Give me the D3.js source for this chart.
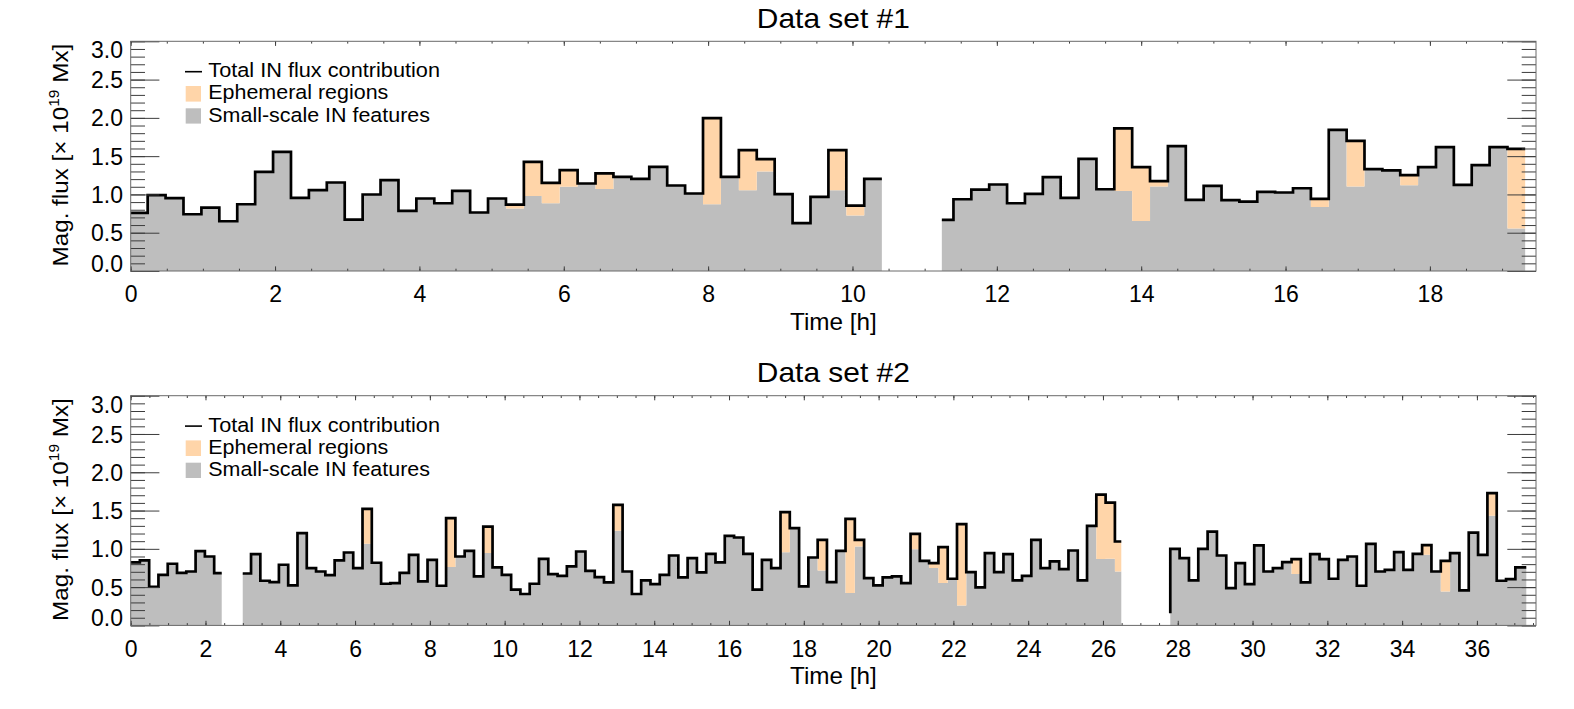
<!DOCTYPE html>
<html><head><meta charset="utf-8">
<script src="https://cdn.jsdelivr.net/npm/d3@7"></script>
<style>
body{margin:0;background:#fff}
svg{display:block}
text{font-family:"Liberation Sans",Arial,Helvetica,sans-serif;fill:#000}
</style>
</head><body>
<svg id="chart" width="1574" height="709"></svg>
<script>
// ---------------- DATA ----------------
const titles = ["Data set #1", "Data set #2"];
const xMaxes = [19.47, 37.58];
const xTickValues1 = [0, 2, 4, 6, 8, 10, 12, 14, 16, 18];
const xTickValues2 = [0, 2, 4, 6, 8, 10, 12, 14, 16, 18, 20, 22, 24, 26, 28, 30, 32, 34, 36];
const yTickValues = [0, 0.5, 1.0, 1.5, 2.0, 2.5, 3.0];
const legendLabels = ["Total IN flux contribution", "Ephemeral regions", "Small-scale IN features"];

// Data set #1 : two observing segments (time in hours)
const ds1SegStart = [0, 11.238];
const ds1FirstEdge = [0.235, 11.399];
const ds1BinWidth = [0.2482, 0.2476];
const ds1SegEnd = [10.407, 19.32];
const ds1SegLead = [null, null];
const ds1TotalA = [0.758,0.99,0.951,0.741,0.829,0.65,0.872,1.295,1.556,0.955,1.055,1.156,0.672,0.999,1.186,0.785,0.947,0.885,1.046,0.764,
  0.947,0.868,1.426,1.151,1.317,1.143,1.274,1.229,1.203,1.36,1.117,1.012,1.997,1.229,1.578,1.461,1.003,0.624,0.968,1.578,0.855,1.203];
const ds1SmallA = [0.758,0.99,0.951,0.741,0.829,0.65,0.872,1.295,1.556,0.955,1.055,1.156,0.672,0.999,1.186,0.785,0.947,0.885,1.046,0.764,
  0.947,0.816,0.981,0.885,1.099,1.143,1.072,1.229,1.203,1.36,1.117,1.012,0.872,1.229,1.055,1.299,1.003,0.624,0.968,1.055,0.724,1.203];
const ds1TotalB = [0.667,0.937,1.064,1.13,0.885,1.007,1.225,0.955,1.465,1.068,1.862,1.356,1.173,1.631,0.928,1.112,0.925,0.907,1.033,1.025,
  1.081,0.942,1.844,1.70,1.33,1.313,1.251,1.356,1.618,1.125,1.382,1.618,1.595];
const ds1SmallB = [0.667,0.937,1.064,1.13,0.885,1.007,1.225,0.955,1.465,1.068,1.046,0.654,1.104,1.631,0.928,1.112,0.925,0.907,1.033,1.025,
  1.081,0.837,1.844,1.104,1.33,1.313,1.121,1.356,1.618,1.125,1.382,1.618,0.554];

// Data set #2 : three observing segments
const ds2SegStart = [0, 2.996, 27.80];
const ds2FirstEdge = [0.245, 3.218, 28.05];
const ds2BinWidth = [0.2484, 0.2484, 0.2494];
const ds2SegEnd = [2.434, 26.49, 37.32];
const ds2SegLead = [null, null, 0.16];
const ds2TotalA = [0.822,0.848,0.505,0.661,0.805,0.687,0.704,0.970,0.900,0.683];
const ds2SmallA = [0.822,0.848,0.505,0.661,0.805,0.687,0.704,0.970,0.900,0.683];
const ds2TotalB = [0.678,0.931,0.583,0.566,0.792,0.522,1.205,0.748,0.704,0.657,0.848,0.952,0.748,1.522,0.818,0.544,0.553,0.687,0.922,0.574,
  0.857,0.518,1.401,0.900,0.974,0.639,1.291,0.757,0.661,0.466,0.410,0.544,0.870,0.670,0.648,0.770,0.965,0.713,0.631,0.561,
  1.574,0.704,0.410,0.587,0.540,0.661,0.913,0.626,0.879,0.692,0.935,0.822,1.170,1.148,0.935,0.466,0.857,0.749,1.479,1.270,
  0.509,0.887,1.118,0.566,0.974,1.392,1.118,0.618,0.522,0.626,0.639,0.553,1.196,0.844,0.814,1.022,0.609,1.323,0.696,0.496,
  0.944,0.696,0.931,0.587,0.648,1.118,0.749,0.835,0.736,0.978,0.587,1.300,1.709,1.604,1.096];
const ds2SmallB = [0.678,0.931,0.583,0.566,0.792,0.522,1.205,0.748,0.704,0.657,0.848,0.952,0.748,1.066,0.818,0.544,0.553,0.687,0.922,0.574,
  0.857,0.518,0.762,0.900,0.974,0.639,0.944,0.757,0.661,0.466,0.410,0.544,0.870,0.670,0.648,0.770,0.965,0.713,0.631,0.561,
  1.235,0.704,0.410,0.587,0.540,0.661,0.913,0.626,0.879,0.692,0.935,0.822,1.170,1.148,0.935,0.466,0.857,0.749,0.957,1.270,
  0.509,0.887,0.717,0.566,0.974,0.423,1.03,0.618,0.522,0.626,0.639,0.553,0.996,0.844,0.749,0.553,0.609,0.261,0.696,0.496,
  0.944,0.696,0.931,0.587,0.648,1.118,0.749,0.835,0.736,0.978,0.587,1.300,0.866,0.87,0.704];
const ds2TotalC = [1.0,0.879,0.587,1.0,1.226,0.913,0.488,0.814,0.540,1.044,0.704,0.748,0.827,0.866,0.561,0.931,0.866,0.609,0.857,0.900,
  0.518,1.066,0.704,0.726,0.957,0.726,0.935,1.048,0.704,0.844,0.944,0.457,1.213,0.922,1.727,0.583,0.605,0.757];
const ds2SmallC = [1.0,0.879,0.587,1.0,1.226,0.913,0.488,0.814,0.540,1.044,0.704,0.748,0.827,0.670,0.561,0.931,0.866,0.609,0.857,0.900,
  0.518,1.066,0.704,0.726,0.957,0.726,0.935,0.922,0.704,0.443,0.944,0.457,1.213,0.922,1.431,0.583,0.605,0.757];

// ---------------- LAYOUT / STYLE ----------------
const LEFT = 130.7, RIGHT = 1536, PH = 229.7;
const TOPS = [41.3, 395.7];
const GRAY = "#bebebe", PEACH = "#ffd5a9";
const TICK = "#3c3c3c", FRAME = "#6a6a6a";
const FONT = '"Liberation Sans",Arial,Helvetica,sans-serif';
const TICKFS = 23;

const panels = [
  {title: titles[0], xMax: xMaxes[0], xTicks: xTickValues1,
   segs: ds1SegStart.map((s, i) => ({start: s, fe: ds1FirstEdge[i], dt: ds1BinWidth[i], end: ds1SegEnd[i], lead: ds1SegLead[i],
     total: [ds1TotalA, ds1TotalB][i], small: [ds1SmallA, ds1SmallB][i]}))},
  {title: titles[1], xMax: xMaxes[1], xTicks: xTickValues2,
   segs: ds2SegStart.map((s, i) => ({start: s, fe: ds2FirstEdge[i], dt: ds2BinWidth[i], end: ds2SegEnd[i], lead: ds2SegLead[i],
     total: [ds2TotalA, ds2TotalB, ds2TotalC][i], small: [ds2SmallA, ds2SmallB, ds2SmallC][i]}))}
];

const svg = d3.select("#chart");
svg.append("rect").attr("width", 1574).attr("height", 709).attr("fill", "#fff");

function stepPoints(seg) {
  const n = seg.total.length;
  const pts = seg.total.map((v, i) => ({t: i === 0 ? seg.start : seg.fe + (i - 1) * seg.dt, hi: v, lo: seg.small[i]}));
  pts.push({t: seg.end, hi: seg.total[n - 1], lo: seg.small[n - 1]});
  return pts;
}

panels.forEach((p, pi) => {
  const W = RIGHT - LEFT;
  const x = d3.scaleLinear().domain([0, p.xMax]).range([0, W]);
  const y = d3.scaleLinear().domain([0, 3]).range([PH, 0]);
  const g = svg.append("g").attr("transform", `translate(${LEFT},${TOPS[pi]})`);

  const grayArea = d3.area().x(d => x(d.t)).y0(y(0)).y1(d => y(d.lo)).curve(d3.curveStepAfter);
  const peachArea = d3.area().x(d => x(d.t)).y0(d => y(d.lo)).y1(d => y(d.hi)).curve(d3.curveStepAfter);
  const line = d3.line().x(d => x(d.t)).y(d => y(d.hi)).curve(d3.curveStepAfter);

  p.segs.forEach(seg => {
    const pts = stepPoints(seg);
    g.append("path").attr("d", grayArea(pts)).attr("fill", GRAY);
    g.append("path").attr("d", peachArea(pts)).attr("fill", PEACH);
    const lpts = seg.lead !== null ? [{t: seg.start, hi: seg.lead, lo: seg.lead}].concat(pts) : pts;
    g.append("path").attr("d", line(lpts)).attr("fill", "none").attr("stroke", "#000")
      .attr("stroke-width", 2.7).attr("stroke-linejoin", "miter");
  });

  // axes
  function putAxis(axis, tr) {
    const a = g.append("g").attr("transform", tr).call(axis);
    a.attr("font-size", null).attr("font-family", null);
    a.select(".domain").remove();
    a.selectAll("line").attr("stroke", TICK).attr("stroke-width", 1);
    a.selectAll("text").attr("font-size", TICKFS).attr("font-family", FONT).attr("fill", "#000");
    return a;
  }
  const xMinor = d3.range(0, p.xMax, 0.5);
  const yMinor = d3.range(0, 3.001, 0.1);
  const xMajLen = 4.6, xMinLen = 2.3, yMajLen = 28.7, yMinLen = 14.3;

  putAxis(d3.axisBottom(x).tickValues(xMinor).tickSizeInner(-xMinLen).tickSizeOuter(0).tickFormat(""), `translate(0,${PH})`);
  putAxis(d3.axisBottom(x).tickValues(p.xTicks).tickSizeInner(-xMajLen).tickSizeOuter(0).tickPadding(31.3 - 0.71 * TICKFS).tickFormat(d3.format("d")), `translate(0,${PH})`);
  putAxis(d3.axisTop(x).tickValues(xMinor).tickSizeInner(-xMinLen).tickSizeOuter(0).tickFormat(""), "translate(0,0)");
  putAxis(d3.axisTop(x).tickValues(p.xTicks).tickSizeInner(-xMajLen).tickSizeOuter(0).tickFormat(""), "translate(0,0)");

  putAxis(d3.axisLeft(y).tickValues(yMinor).tickSizeInner(-yMinLen).tickSizeOuter(0).tickFormat(""), "translate(0,0)");
  const yl = putAxis(d3.axisLeft(y).tickValues(yTickValues).tickSizeInner(-yMajLen).tickSizeOuter(0).tickPadding(7.7).tickFormat(d3.format(".1f")), "translate(0,0)");
  yl.selectAll("text").attr("dy", d => d === 0 ? "0em" : (d === 3 ? "0.72em" : "0.35em"));
  putAxis(d3.axisRight(y).tickValues(yMinor).tickSizeInner(-yMinLen).tickSizeOuter(0).tickFormat(""), `translate(${W},0)`);
  putAxis(d3.axisRight(y).tickValues(yTickValues).tickSizeInner(-yMajLen).tickSizeOuter(0).tickFormat(""), `translate(${W},0)`);

  g.append("rect").attr("x", 0).attr("y", 0).attr("width", W).attr("height", PH)
    .attr("fill", "none").attr("stroke", FRAME).attr("stroke-width", 1);

  // title
  g.append("text").attr("x", W / 2).attr("y", -13.3).attr("text-anchor", "middle")
    .attr("font-size", 28).attr("textLength", 153).attr("lengthAdjust", "spacingAndGlyphs").text(p.title);
  // x label
  g.append("text").attr("x", W / 2).attr("y", PH + 58.6).attr("text-anchor", "middle")
    .attr("font-size", 24).attr("textLength", 86.7).attr("lengthAdjust", "spacingAndGlyphs").text("Time [h]");
  // y label
  const yt = svg.append("text").attr("text-anchor", "middle").attr("font-size", 22);
  yt.append("tspan").text("Mag. flux [\u00d7 10");
  yt.append("tspan").attr("font-size", 14).attr("dy", -9).text("19");
  yt.append("tspan").attr("dy", 9).text(" Mx]");
  const bw = yt.node().getBBox().width;
  yt.attr("transform", `translate(68.3,${TOPS[pi] + PH / 2 - 1}) rotate(-90) scale(${223 / bw},1)`);

  // legend
  const lg = g.append("g");
  lg.append("line").attr("x1", 54.3).attr("x2", 71.3).attr("y1", 30.4).attr("y2", 30.4)
    .attr("stroke", "#000").attr("stroke-width", 1.6);
  lg.append("rect").attr("x", 55).attr("y", 44.7).attr("width", 15.3).attr("height", 15.6).attr("fill", PEACH);
  lg.append("rect").attr("x", 55).attr("y", 67).attr("width", 15.3).attr("height", 15.3).attr("fill", GRAY);
  const legW = [231.7, 180, 221.7];
  const legY = [36, 58, 80.4];
  legendLabels.forEach((s, i) => {
    lg.append("text").attr("x", 77.6).attr("y", legY[i]).attr("font-size", 20.5)
      .attr("textLength", legW[i]).attr("lengthAdjust", "spacingAndGlyphs").text(s);
  });
});
</script>
</body></html>
